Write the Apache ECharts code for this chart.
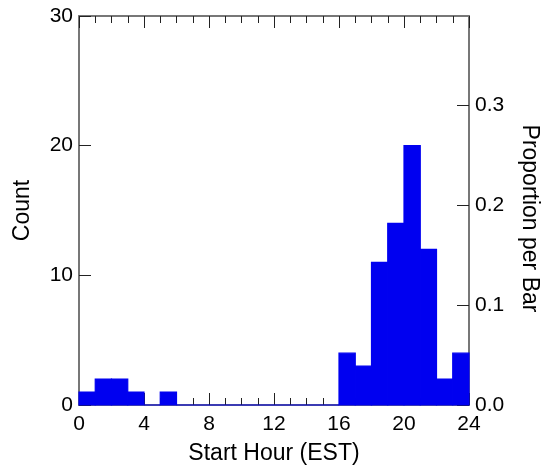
<!DOCTYPE html>
<html>
<head>
<meta charset="utf-8">
<title>Start Hour histogram</title>
<script src="https://cdn.jsdelivr.net/npm/echarts@6/dist/echarts.min.js"></script>
<style>
  html, body { margin: 0; padding: 0; background: #fff; }
  #chart { width: 545px; height: 472px; }
</style>
</head>
<body>
<div id="chart"></div>
<script>
// hourly bins, left edge of each bar
const binStart = [0, 1, 2, 3, 4, 5, 6, 7, 8, 9, 10, 11, 12, 13, 14, 15, 16, 17, 18, 19, 20, 21, 22, 23];
const counts = [1, 2, 2, 1, 0, 1, 0, 0, 0, 0, 0, 0, 0, 0, 0, 0, 4, 3, 11, 14, 20, 12, 2, 4];
const binWidth = 1;
const propTicks = [0, 0.1, 0.2, 0.3];

const total = counts.reduce((a, b) => a + b, 0);
const countMax = 30;

const axisGray = "#777777";
const tickColor = "#222";
const labelFont = { color: "#000", fontSize: 21, fontFamily: "Liberation Sans, Arial, sans-serif" };
const nameFont = { color: "#000", fontSize: 23, fontFamily: "Liberation Sans, Arial, sans-serif" };

const barData = binStart.map((x, i) => [x, x + binWidth, counts[i]]);

const chart = echarts.init(document.getElementById("chart"), null, { renderer: "canvas" });

const xCommon = {
  type: "value",
  min: 0,
  max: 24,
  interval: 4,
  axisLine: { show: true, onZero: false, lineStyle: { color: axisGray, width: 2 } },
  axisTick: { show: true, inside: true, length: 12, lineStyle: { color: tickColor, width: 1 } },
  minorTick: { show: true, splitNumber: 4, length: 7, lineStyle: { color: tickColor, width: 1 } },
  splitLine: { show: false },
  minorSplitLine: { show: false }
};

const option = {
  animation: false,
  grid: { left: 79, right: 76, top: 16, bottom: 67, containLabel: false, outerBoundsMode: "none" },
  xAxis: [
    {
      ...xCommon,
      position: "bottom",
      name: "Start Hour (EST)",
      nameLocation: "middle",
      nameGap: 37,
      nameTextStyle: nameFont,
      axisLabel: { ...labelFont, margin: 9 }
    },
    {
      ...xCommon,
      position: "top",
      axisLabel: { show: false }
    }
  ],
  yAxis: [
    {
      type: "value",
      position: "left",
      min: 0,
      max: countMax,
      interval: 10,
      name: "Count",
      nameLocation: "middle",
      nameGap: 45,
      nameTextStyle: nameFont,
      axisLine: { show: true, onZero: false, lineStyle: { color: axisGray, width: 2 } },
      axisTick: { show: true, inside: true, length: 12, lineStyle: { color: tickColor, width: 1 } },
      axisLabel: { ...labelFont, margin: 6 },
      splitLine: { show: false }
    },
    {
      type: "value",
      position: "right",
      min: 0,
      max: countMax / total,
      name: "Proportion per Bar",
      nameLocation: "middle",
      nameRotate: -90,
      nameGap: 49,
      nameTextStyle: { ...nameFont, padding: [0, 0, 0, 16] },
      axisLine: { show: true, onZero: false, lineStyle: { color: axisGray, width: 2 } },
      axisTick: { show: true, inside: true, length: 12, customValues: propTicks, lineStyle: { color: tickColor, width: 1 } },
      axisLabel: { ...labelFont, margin: 6, customValues: propTicks, formatter: (v) => v.toFixed(1) },
      splitLine: { show: false }
    }
  ],
  series: [
    {
      type: "custom",
      xAxisIndex: 0,
      yAxisIndex: 0,
      data: barData,
      encode: { x: [0, 1], y: 2 },
      renderItem: function (params, api) {
        const lo = api.coord([api.value(0), 0]);
        const hi = api.coord([api.value(1), api.value(2)]);
        return {
          type: "rect",
          shape: { x: lo[0], y: hi[1], width: hi[0] - lo[0], height: lo[1] - hi[1] },
          style: { fill: "#0000f0", stroke: "#0000f0", lineWidth: 1.2 }
        };
      },
      z: 1
    }
  ]
};

chart.setOption(option);
</script>
</body>
</html>
